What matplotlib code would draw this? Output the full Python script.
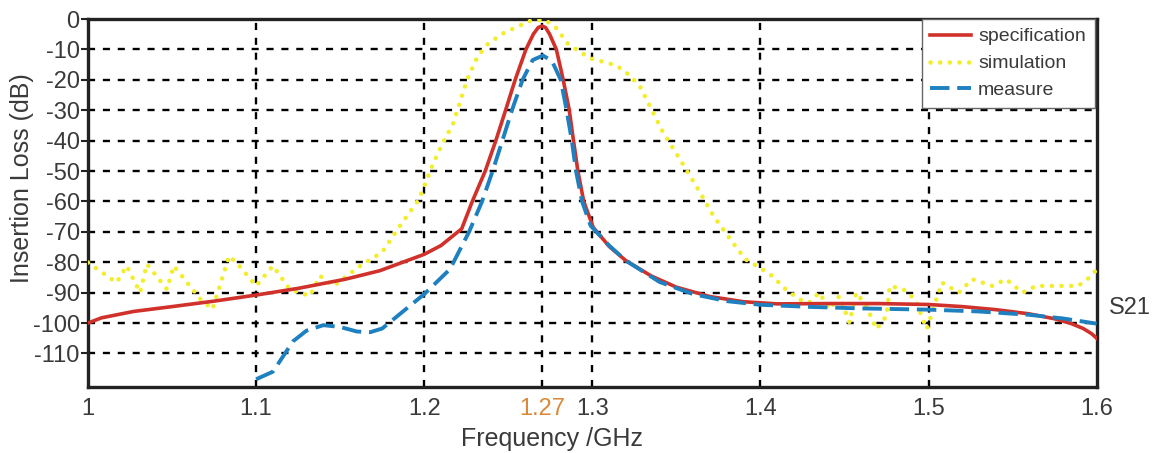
import matplotlib
matplotlib.use("Agg")
import matplotlib.pyplot as plt

plt.rcParams['font.family'] = ['Liberation Sans', 'DejaVu Sans']
plt.rcParams['axes.unicode_minus'] = False

# ---- data ----
spec_f = [1.000, 1.008, 1.027, 1.05, 1.075, 1.1, 1.125, 1.153, 1.1735, 1.2, 1.21, 1.2223,
          1.2286, 1.2363, 1.2426, 1.2484, 1.2541, 1.2605, 1.2649, 1.2678, 1.27, 1.2722, 1.2746,
          1.2786, 1.2827, 1.2863, 1.2888, 1.2914, 1.2949, 1.3005, 1.31, 1.32, 1.335, 1.35, 1.37,
          1.39, 1.41, 1.44, 1.47, 1.5, 1.52, 1.54, 1.56, 1.575, 1.585, 1.592, 1.597, 1.6]
spec_db = [-100, -98.3, -96.2, -94.6, -92.8, -90.8, -88.6, -85.6, -82.8, -77.4, -74.5, -69,
           -60, -50, -40, -30, -20, -10, -5, -2.8, -2.3, -2.8, -5,
           -10, -20, -30, -40, -50, -60, -68.5, -74.8, -79.5, -84.5, -88.2, -91.3,
           -93, -93.7, -93.6, -93.6, -93.9, -94.6, -95.6, -97, -98.6, -100.2, -101.8, -103.5, -105]

sim_f = [1.000, 1.017, 1.023, 1.031, 1.035, 1.047, 1.051, 1.067, 1.074, 1.084, 1.090, 1.100,
         1.110, 1.120, 1.132, 1.138, 1.146, 1.154, 1.162, 1.175, 1.185, 1.197, 1.205, 1.2108,
         1.2172, 1.2255, 1.2318, 1.2382, 1.2471, 1.2554, 1.2636, 1.272, 1.2786, 1.2853, 1.2924,
         1.299, 1.306, 1.3143, 1.320, 1.328, 1.332, 1.342, 1.352, 1.364, 1.372, 1.382, 1.391,
         1.401, 1.407, 1.415, 1.423, 1.429, 1.435, 1.441, 1.447, 1.453, 1.457, 1.463, 1.469,
         1.475, 1.477, 1.485, 1.492, 1.499, 1.504, 1.508, 1.518, 1.526, 1.538, 1.546, 1.556,
         1.564, 1.589, 1.597, 1.600]
sim_db = [-80.1, -86.7, -81.2, -90, -80.6, -88.9, -81.2, -92.2, -95.5, -77.9, -81.2, -87.8,
          -81.2, -88.9, -91.1, -84.5, -87.8, -84.5, -81.2, -76.7, -68.5, -59.2, -48, -41,
          -34.4, -20, -12.3, -8, -4.7, -2.5, -0.5, -0.3, -3, -8, -10.7,
          -13, -14, -15.3, -17.5, -21.8, -26.2, -37.2, -46, -57, -64.7, -72.4, -79,
          -82.3, -84.5, -88.9, -92.2, -93.3, -90, -95.5, -91.1, -99.9, -90, -94.4, -102,
          -97.7, -87.8, -88.9, -92.2, -102, -93.3, -86.7, -90, -85.6, -87.8, -85.6, -90,
          -87.8, -87.8, -84.5, -82.3]

meas_f = [1.1, 1.106, 1.11, 1.116, 1.122, 1.13, 1.14, 1.15, 1.16, 1.168, 1.175, 1.1865, 1.2,
          1.2153, 1.2267, 1.2344, 1.2407, 1.2465, 1.2522, 1.2585, 1.2645, 1.2706, 1.276, 1.2812,
          1.2847, 1.2878, 1.2903, 1.2939, 1.299, 1.31, 1.32, 1.34, 1.36, 1.38, 1.4, 1.43, 1.46,
          1.5, 1.53, 1.56, 1.58, 1.6]
meas_db = [-118.5, -117, -116, -111, -106, -102.5, -100.7, -101.3, -102.8, -103, -101.8, -96.6, -90.5,
           -82.3, -70, -60, -50, -40, -30, -20, -13.5, -12, -13.8, -20,
           -30, -40, -50, -60, -68, -74.5, -79.5, -86.5, -90.5, -92.8, -94, -94.7, -95.2,
           -95.6, -96.2, -97.3, -98.5, -100.2]

x_ticks = [1.0, 1.1, 1.2, 1.27, 1.3, 1.4, 1.5, 1.6]
x_tick_labels = ['1', '1.1', '1.2', '1.27', '1.3', '1.4', '1.5', '1.6']
y_ticks = [0, -10, -20, -30, -40, -50, -60, -70, -80, -90, -100, -110]

# ---- figure ----
fig = plt.figure(figsize=(11.58, 4.53), dpi=100)
ax = fig.add_axes([0.076, 0.146, 0.871, 0.812])

text_col = '#3a3a3a'
ax.plot(spec_f, spec_db, color='#d0312a', lw=2.6, label='specification', zorder=4,
        solid_joinstyle='round')
ax.plot(sim_f, sim_db, color='#f2ee2e', lw=3.3, ls=(0, (0.01, 2.1)), dash_capstyle='round',
        label='simulation', zorder=3)
ax.plot(meas_f, meas_db, color='#1f80c0', lw=2.8, ls=(0, (5, 2)), label='measure', zorder=5)

ax.set_xlim(1.0, 1.6)
ax.set_ylim(-121, 0)
ax.set_xticks(x_ticks)
ax.set_xticklabels(x_tick_labels)
ax.set_yticks(y_ticks)

for xv in x_ticks[1:-1]:
    ax.axvline(xv, color='black', lw=1.7, ls=(0, (3, 3.3)), zorder=1)
for yv in y_ticks[1:]:
    ax.axhline(yv, color='black', lw=1.7, ls=(0, (3, 3.3)), zorder=1)

ax.tick_params(axis='x', length=0, labelsize=17, labelcolor=text_col, pad=8)
ax.tick_params(axis='y', length=5, width=1.5, color='#222222', labelsize=17,
               labelcolor=text_col, pad=1)
for lab in ax.get_xticklabels():
    if lab.get_text() == '1.27':
        lab.set_color('#d88a3a')

for sp in ax.spines.values():
    sp.set_linewidth(2.4)
    sp.set_color('#222222')

ax.set_xlabel('Frequency /GHz', fontsize=18, color=text_col)
ax.set_ylabel('Insertion Loss (dB)', fontsize=18, color=text_col)
ax.xaxis.set_label_coords(0.46, -0.11)
ax.yaxis.set_label_coords(-0.054, 0.568)

leg = ax.legend(loc='upper right', bbox_to_anchor=(0.998, 1.0), borderaxespad=0.0,
                fontsize=14, frameon=True, fancybox=False, handlelength=2.1,
                handletextpad=0.36, labelspacing=0.48, borderpad=0.45)
leg.get_frame().set_edgecolor('#666666')
leg.get_frame().set_linewidth(1.0)
leg.get_frame().set_alpha(1.0)
for t in leg.get_texts():
    t.set_color(text_col)

ax.text(1.607, -95, 'S21', fontsize=17, color=text_col, va='center', ha='left',
        clip_on=False)

fig.savefig('out.png', dpi=100)
